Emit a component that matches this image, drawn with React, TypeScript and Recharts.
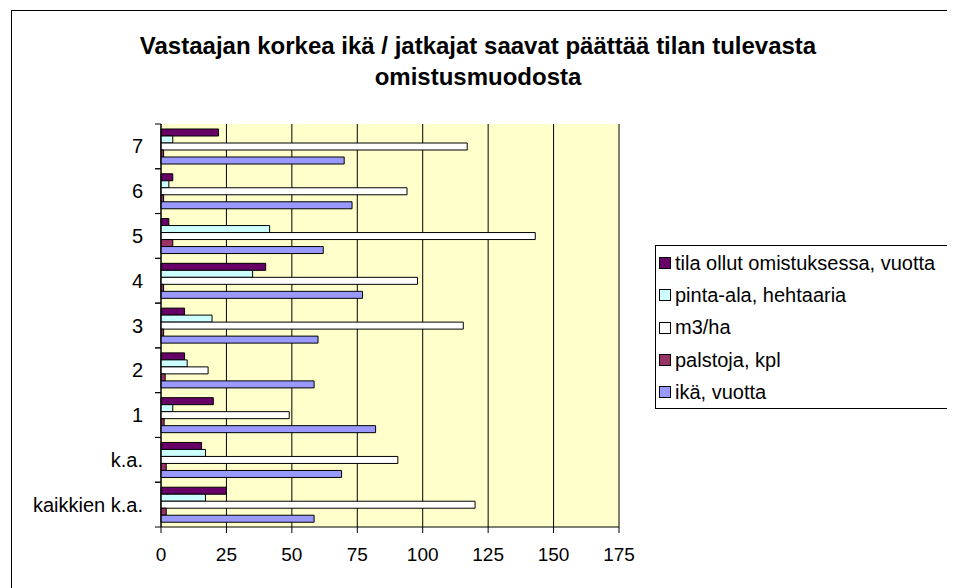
import { Bar, BarChart, CartesianGrid, XAxis, YAxis } from 'recharts';

const categories = ['7', '6', '5', '4', '3', '2', '1', 'k.a.', 'kaikkien k.a.'];
const tila = [22, 4.5, 3, 40, 9, 9, 20, 15.5, 25];
const pintaAla = [4.5, 3, 41.5, 35, 19.5, 10, 4.5, 17, 17];
const m3ha = [117, 94, 143, 98, 115.5, 18, 49, 90.5, 120];
const palstoja = [1, 1, 4.5, 1, 1, 1.6, 1.2, 2, 2];
const ika = [70, 73, 62, 77, 60, 58.5, 82, 69, 58.5];
const xTicks = [0, 25, 50, 75, 100, 125, 150, 175];

const series = [
    { key: 'tila', name: 'tila ollut omistuksessa, vuotta', color: '#660066' },
    { key: 'pinta', name: 'pinta-ala, hehtaaria', color: '#CCFFFF' },
    { key: 'm3', name: 'm3/ha', color: '#FFFFFF' },
    { key: 'palstoja', name: 'palstoja, kpl', color: '#993366' },
    { key: 'ika', name: 'ikä, vuotta', color: '#9999FF' },
];

const data = categories.map((c, i) => ({
    cat: c,
    tila: tila[i],
    pinta: pintaAla[i],
    m3: m3ha[i],
    palstoja: palstoja[i],
    ika: ika[i],
}));

const FONT = '"Liberation Sans", Arial, sans-serif';
const W = 944;
const H = 580;
const X_H = 40;
const M = { top: 116, right: 333, bottom: 21, left: 0 };
const band = (H - M.top - M.bottom - X_H) / categories.length;

// custom category tick: label plus tick marks on the band edges (like Excel)
const CatTick = (props: any) => {
    const { x, y, payload } = props;
    const ax = x + 8;
    return (
        <g>
            <line x1={ax - 6} x2={ax} y1={y - band / 2} y2={y - band / 2} stroke="#000" />
            <line x1={ax - 6} x2={ax} y1={y + band / 2} y2={y + band / 2} stroke="#000" />
            <text x={ax - 18} y={y} textAnchor="end" dominantBaseline="central" fontSize={20} fill="#000" fontFamily={FONT}>
                {payload.value}
            </text>
        </g>
    );
};

const App = () => {
    return (
        <div style={{ position: 'relative', width: W, height: H, overflow: 'hidden', fontFamily: FONT, background: '#fff' }}>
            <style>{'html,body{overflow:hidden}'}</style>
            <div style={{ position: 'absolute', left: 3, top: 2, width: 2000, height: 2000, border: '1px solid #000' }} />
            <div
                style={{
                    position: 'absolute',
                    left: 0,
                    top: 22,
                    width: 940,
                    textAlign: 'center',
                    fontWeight: 'bold',
                    fontSize: 24,
                    lineHeight: '31px',
                    color: '#000',
                }}
            >
                Vastaajan korkea ikä / jatkajat saavat päättää tilan tulevasta
                <br />
                omistusmuodosta
            </div>
            <div style={{ position: 'absolute', left: 0, top: 0 }}>
                <BarChart width={W} height={H} data={data} layout="vertical" margin={M} barSize={7} barGap={0}>
                    <CartesianGrid horizontal={false} stroke="#000" fill="#FFFFCC" />
                    <XAxis
                        type="number"
                        domain={[0, 175]}
                        ticks={xTicks}
                        interval={0}
                        height={X_H}
                        tickSize={6}
                        tickMargin={15}
                        axisLine={{ stroke: '#000' }}
                        tickLine={{ stroke: '#000' }}
                        tick={{ fill: '#000', fontSize: 19, fontFamily: FONT }}
                    />
                    <XAxis xAxisId="top" orientation="top" type="number" domain={[0, 175]} height={0} tick={false} tickLine={false} axisLine={{ stroke: '#808080', strokeWidth: 2 }} />
                    <YAxis type="category" dataKey="cat" width={153} axisLine={{ stroke: '#000' }} tickLine={false} tick={<CatTick />} interval={0} />
                    <YAxis yAxisId="right" orientation="right" type="category" dataKey="cat" width={0} tick={false} tickLine={false} axisLine={{ stroke: '#808080', strokeWidth: 2 }} />
                    {series.map((s) => (
                        <Bar key={s.key} dataKey={s.key} name={s.name} fill={s.color} stroke="#000" strokeWidth={1} isAnimationActive={false} />
                    ))}
                </BarChart>
            </div>
            <div
                style={{
                    position: 'absolute',
                    left: 647,
                    top: 237,
                    width: 294,
                    height: 161,
                    border: '1px solid #000',
                    background: '#fff',
                    paddingTop: 1,
                    boxSizing: 'content-box',
                }}
            >
                {series.map((s) => (
                    <div key={s.key} style={{ height: 32.3, display: 'flex', alignItems: 'center', fontSize: 20, color: '#000', whiteSpace: 'nowrap' }}>
                        <span style={{ display: 'inline-block', width: 10, height: 10, border: '1px solid #000', background: s.color, marginLeft: 3, marginRight: 4 }} />
                        {s.name}
                    </div>
                ))}
            </div>
        </div>
    );
};

export default App;
